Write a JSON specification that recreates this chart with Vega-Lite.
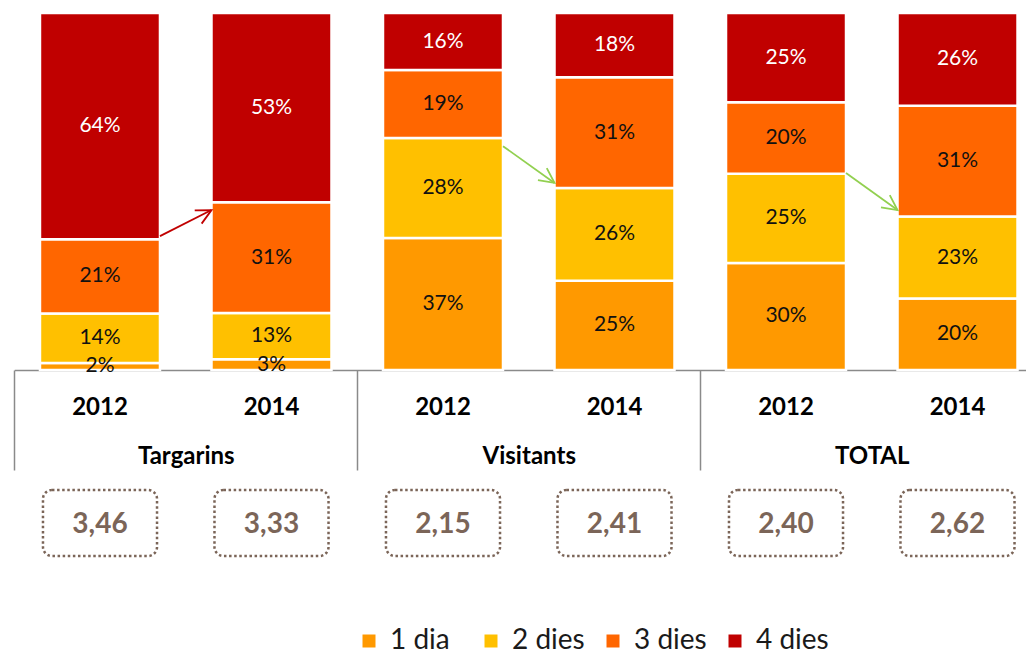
{
  "$schema": "https://vega.github.io/schema/vega-lite/v6.json",
  "width": 1026,
  "height": 357,
  "autosize": "none",
  "padding": {"left": 0, "top": 13, "right": 0, "bottom": 284},
  "background": "white",
  "config": {"view": {"stroke": null}, "font": "Lato"},
  "datasets": {
    "shares": [
      {"bar": "Targarins 2012", "dies": "1 dia", "pct": 2},
      {"bar": "Targarins 2012", "dies": "2 dies", "pct": 14},
      {"bar": "Targarins 2012", "dies": "3 dies", "pct": 21},
      {"bar": "Targarins 2012", "dies": "4 dies", "pct": 64},
      {"bar": "Targarins 2014", "dies": "1 dia", "pct": 3},
      {"bar": "Targarins 2014", "dies": "2 dies", "pct": 13},
      {"bar": "Targarins 2014", "dies": "3 dies", "pct": 31},
      {"bar": "Targarins 2014", "dies": "4 dies", "pct": 53},
      {"bar": "Visitants 2012", "dies": "1 dia", "pct": 37},
      {"bar": "Visitants 2012", "dies": "2 dies", "pct": 28},
      {"bar": "Visitants 2012", "dies": "3 dies", "pct": 19},
      {"bar": "Visitants 2012", "dies": "4 dies", "pct": 16},
      {"bar": "Visitants 2014", "dies": "1 dia", "pct": 25},
      {"bar": "Visitants 2014", "dies": "2 dies", "pct": 26},
      {"bar": "Visitants 2014", "dies": "3 dies", "pct": 31},
      {"bar": "Visitants 2014", "dies": "4 dies", "pct": 18},
      {"bar": "TOTAL 2012", "dies": "1 dia", "pct": 30},
      {"bar": "TOTAL 2012", "dies": "2 dies", "pct": 25},
      {"bar": "TOTAL 2012", "dies": "3 dies", "pct": 20},
      {"bar": "TOTAL 2012", "dies": "4 dies", "pct": 25},
      {"bar": "TOTAL 2014", "dies": "1 dia", "pct": 20},
      {"bar": "TOTAL 2014", "dies": "2 dies", "pct": 23},
      {"bar": "TOTAL 2014", "dies": "3 dies", "pct": 31},
      {"bar": "TOTAL 2014", "dies": "4 dies", "pct": 26}
    ],
    "arrows": [
      {"from": "Targarins 2012", "to": "Targarins 2014", "y_from": 0.375, "y_to": 0.448},
      {"from": "Visitants 2012", "to": "Visitants 2014", "y_from": 0.627, "y_to": 0.524},
      {"from": "TOTAL 2012", "to": "TOTAL 2014", "y_from": 0.552, "y_to": 0.448}
    ],
    "averages": [
      {"bar": "Targarins 2012", "avg": 3.46},
      {"bar": "Targarins 2014", "avg": 3.33},
      {"bar": "Visitants 2012", "avg": 2.15},
      {"bar": "Visitants 2014", "avg": 2.41},
      {"bar": "TOTAL 2012", "avg": 2.40},
      {"bar": "TOTAL 2014", "avg": 2.62}
    ],
    "groups": [
      {"group": "Targarins"},
      {"group": "Visitants"},
      {"group": "TOTAL"}
    ]
  },
  "layer": [
    {
      "layer": [
        {
          "data": {"name": "shares"},
          "transform": [
            {"stack": "pct", "groupby": ["bar"], "sort": [{"field": "dies", "order": "ascending"}], "offset": "normalize", "as": ["y0", "y1"]}
          ],
          "mark": {"type": "bar", "stroke": "white", "strokeWidth": 2.5},
          "encoding": {
            "x": {
              "field": "bar", "type": "nominal", "title": null,
              "scale": {"domain": ["Targarins 2012", "Targarins 2014", "Visitants 2012", "Visitants 2014", "TOTAL 2012", "TOTAL 2014"], "range": [14.25, 1043.25], "paddingInner": 0.3003, "paddingOuter": 0.15},
              "axis": {
                "orient": "bottom", "domain": true, "domainColor": "#8a8a8a", "domainWidth": 1.5,
                "ticks": false, "tickSize": 0, "grid": false, "labelAngle": 0,
                "labelFont": "Lato", "labelFontSize": 24, "labelFontWeight": "bold", "labelColor": "#000000",
                "labelPadding": 44, "labelBaseline": "alphabetic",
                "labelExpr": "split(datum.label, ' ')[1]"
              }
            },
            "y": {"field": "y1", "type": "quantitative", "title": null, "scale": {"domain": [0, 1], "nice": false}, "axis": null},
            "y2": {"field": "y0"},
            "color": {
              "field": "dies", "type": "nominal",
              "scale": {"domain": ["1 dia", "2 dies", "3 dies", "4 dies"], "range": ["#FF9900", "#FFC000", "#FF6600", "#C00000"]},
              "legend": {
                "orient": "none", "legendX": 355, "legendY": 614, "direction": "horizontal", "columns": 4,
                "title": null, "symbolType": "square", "symbolSize": 169, "symbolStrokeWidth": 0,
                "labelFont": "Lato", "labelFontSize": 28, "labelColor": "#1a1a1a", "labelOffset": 7,
                "columnPadding": 14, "gridAlign": "all", "padding": 0
              }
            }
          }
        },
        {
          "data": {"name": "shares"},
          "transform": [
            {"stack": "pct", "groupby": ["bar"], "sort": [{"field": "dies", "order": "ascending"}], "offset": "normalize", "as": ["y0", "y1"]},
            {"calculate": "(datum.y0 + datum.y1) / 2", "as": "ymid"},
            {"calculate": "datum.pct + '%'", "as": "label"}
          ],
          "mark": {"type": "text", "font": "Lato", "fontSize": 21, "baseline": "middle"},
          "encoding": {
            "x": {"field": "bar", "type": "nominal", "title": null},
            "y": {"field": "ymid", "type": "quantitative", "title": null},
            "text": {"field": "label"},
            "color": {"condition": {"test": "datum.dies === '4 dies'", "value": "#ffffff"}, "value": "#111111"}
          }
        },
        {
          "data": {"name": "arrows"},
          "mark": {"type": "rule", "strokeWidth": 1.8},
          "encoding": {
            "x": {"field": "from", "type": "nominal", "bandPosition": 1, "title": null},
            "x2": {"field": "to", "bandPosition": 0},
            "y": {"field": "y_from", "type": "quantitative", "title": null},
            "y2": {"field": "y_to"},
            "color": {"condition": {"test": "datum.from === 'Targarins 2012'", "value": "#C00000"}, "value": "#92D050"}
          }
        },
        {
          "data": {"name": "arrows"},
          "mark": {"type": "point", "shape": "M -1 -0.5 L 0 0 L -1 0.5", "filled": false, "size": 900, "strokeWidth": 1.8, "opacity": 1},
          "encoding": {
            "x": {"field": "to", "type": "nominal", "bandPosition": 0, "title": null},
            "y": {"field": "y_to", "type": "quantitative", "title": null},
            "color": {"condition": {"test": "datum.from === 'Targarins 2012'", "value": "#C00000"}, "value": "#92D050"},
            "angle": {"condition": {"test": "datum.from === 'Targarins 2012'", "value": -27.5}, "value": 36}
          }
        }
      ]
    },
    {
      "data": {"name": "groups"},
      "mark": {"type": "text", "text": " ", "opacity": 0},
      "encoding": {
        "x": {
          "field": "group", "type": "nominal", "title": null, "sort": null,
          "scale": {"domain": ["Targarins", "Visitants", "TOTAL"], "range": [14.25, 1043.25], "paddingInner": 0, "paddingOuter": 0},
          "axis": {
            "orient": "bottom", "domain": false, "ticks": true, "tickBand": "extent", "tickSize": 100,
            "tickColor": "#8a8a8a", "tickWidth": 1.5, "grid": false, "labelAngle": 0,
            "labelFont": "Lato", "labelFontSize": 24, "labelFontWeight": "bold", "labelColor": "#000000",
            "labelPadding": -7, "labelBaseline": "alphabetic"
          }
        }
      }
    },
    {
      "data": {"name": "averages"},
      "transform": [
        {"calculate": "replace(format(datum.avg, '.2f'), '.', ',')", "as": "avg_label"}
      ],
      "encoding": {
        "x": {
          "field": "bar", "type": "nominal", "title": null,
          "scale": {"domain": ["Targarins 2012", "Targarins 2014", "Visitants 2012", "Visitants 2014", "TOTAL 2012", "TOTAL 2014"], "range": [14.25, 1043.25], "paddingInner": 0.335, "paddingOuter": 0.1675},
          "axis": null
        },
        "y": {"datum": "Mitjana", "type": "nominal", "scale": {"range": [477, 543], "paddingInner": 0, "paddingOuter": 0}, "axis": null}
      },
      "layer": [
        {"mark": {"type": "rect", "fill": "#ffffff", "fillOpacity": 0, "stroke": "#7b6558", "strokeWidth": 2.5, "strokeDash": [2.5, 2.6], "cornerRadius": 9}},
        {"mark": {"type": "text", "font": "Lato", "fontSize": 28, "fontWeight": "bold", "color": "#7b6558", "baseline": "middle", "dy": 2}, "encoding": {"text": {"field": "avg_label"}}}
      ]
    }
  ],
  "resolve": {"scale": {"x": "independent", "y": "independent"}, "axis": {"x": "independent"}}
}
